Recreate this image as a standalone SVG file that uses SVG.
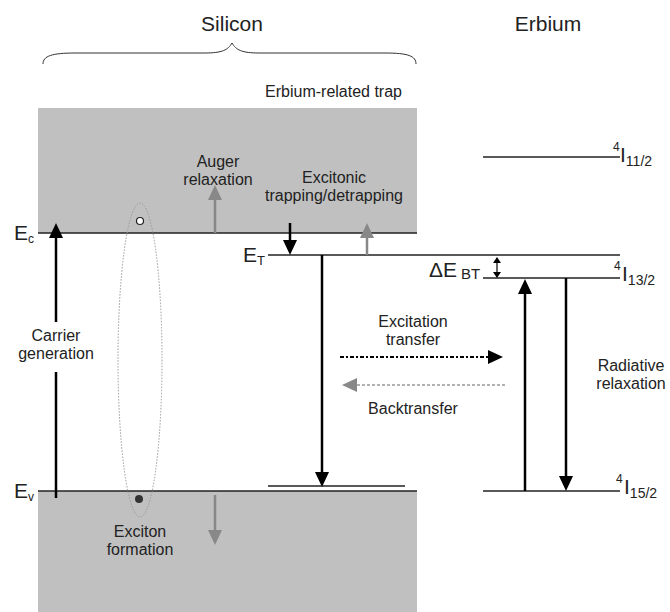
<svg xmlns="http://www.w3.org/2000/svg" width="670" height="612" viewBox="0 0 670 612">
<style>
text{font-family:"Liberation Sans",Arial,sans-serif;fill:#222}
.lbl{font-size:16px}
.big{font-size:21px}
.lvl{stroke:#222;stroke-width:1.5;fill:none}
.blk{stroke:#000;stroke-width:2.5;fill:none}
.gry{stroke:#888;stroke-width:2.5;fill:none}
.band{fill:#c0c0c0}
</style>
<defs>
<marker id="hb" markerUnits="userSpaceOnUse" markerWidth="16" markerHeight="14" refX="0" refY="7" orient="auto" overflow="visible"><path d="M0,0 L15,7 L0,14 z" fill="#000"/></marker>
<marker id="hg" markerUnits="userSpaceOnUse" markerWidth="16" markerHeight="14" refX="0" refY="7" orient="auto" overflow="visible"><path d="M0,0 L15,7 L0,14 z" fill="#888"/></marker>
<marker id="hs" markerUnits="userSpaceOnUse" markerWidth="7" markerHeight="8" refX="0" refY="4" orient="auto" overflow="visible"><path d="M0,0 L6,4 L0,8 z" fill="#000"/></marker>
<marker id="hss" markerUnits="userSpaceOnUse" markerWidth="7" markerHeight="8" refX="0" refY="4" orient="auto-start-reverse" overflow="visible"><path d="M0,0 L6,4 L0,8 z" fill="#000"/></marker>
</defs>
<g id="silicon-band">
<rect class="band" x="38" y="108" width="379" height="125"/>
<rect class="band" x="38" y="491" width="379" height="121"/>
<path d="M43,64 C43,56 52,53 75,53 L205,53 C222,53 228,50 232,43 C236,50 242,53 259,53 L385,53 C408,53 416,56 416,64" fill="none" stroke="#333" stroke-width="1"/>
<text class="big" x="232" y="31" text-anchor="middle">Silicon</text>
<text class="lbl" x="402" y="97" text-anchor="end">Erbium-related trap</text>
</g>
<g id="erbium-title"><text class="big" x="548" y="31" text-anchor="middle">Erbium</text></g>
<g id="Ec"><line class="lvl" x1="38" y1="233" x2="417" y2="233"/><text class="big" x="14" y="240">E<tspan font-size="12" dy="3">c</tspan></text></g>
<g id="Ev"><line class="lvl" x1="38" y1="491" x2="417" y2="491"/><text class="big" x="14" y="498">E<tspan font-size="12" dy="3">v</tspan></text></g>
<g id="ET"><line class="lvl" x1="268" y1="255" x2="620" y2="255"/><text class="big" x="243" y="262">E<tspan font-size="13" dy="3">T</tspan></text></g>
<g id="trap-low"><line class="lvl" x1="268" y1="486" x2="405" y2="486"/></g>
<g id="I11"><line class="lvl" x1="483" y1="157" x2="620" y2="157"/><text x="613" y="151" font-size="12">4</text><text class="big" x="620" y="162">I<tspan font-size="14" dy="4">11/2</tspan></text></g>
<g id="I13"><line class="lvl" x1="483" y1="278" x2="620" y2="278"/><text x="614" y="270" font-size="12">4</text><text class="big" x="622" y="281">I<tspan font-size="14" dy="4">13/2</tspan></text><text class="big" x="429" y="277">ΔE<tspan font-size="15" dx="4" dy="2">BT</tspan></text></g>
<g id="I15"><line class="lvl" x1="483" y1="491" x2="620" y2="491"/><text x="616" y="483" font-size="12">4</text><text class="big" x="624" y="494">I<tspan font-size="14" dy="4">15/2</tspan></text></g>
<g id="exciton">
<ellipse cx="140" cy="360" rx="22" ry="157" fill="none" stroke="#999" stroke-width="1" stroke-dasharray="1.5 1.5"/>
<circle cx="140" cy="221" r="3.5" fill="#fff" stroke="#222" stroke-width="1.2"/>
<circle cx="139" cy="499" r="4" fill="#333"/>
<text class="lbl" text-anchor="middle" x="140" y="537">Exciton</text>
<text class="lbl" text-anchor="middle" x="140" y="555">formation</text>
</g>
<g id="labels">
<text class="lbl" text-anchor="middle" x="218" y="167">Auger</text>
<text class="lbl" text-anchor="middle" x="218" y="185">relaxation</text>
<text class="lbl" text-anchor="middle" x="334" y="183">Excitonic</text>
<text class="lbl" text-anchor="middle" x="334" y="201">trapping/detrapping</text>
<text class="lbl" text-anchor="middle" x="56" y="341">Carrier</text>
<text class="lbl" text-anchor="middle" x="56" y="359">generation</text>
<text class="lbl" text-anchor="middle" x="413" y="327">Excitation</text>
<text class="lbl" text-anchor="middle" x="413" y="345">transfer</text>
<text class="lbl" text-anchor="middle" x="413" y="414">Backtransfer</text>
<text class="lbl" text-anchor="middle" x="631" y="371">Radiative</text>
<text class="lbl" text-anchor="middle" x="631" y="389">relaxation</text>
</g>
<g id="connectors">
<line class="blk" x1="56" y1="498" x2="56" y2="372"/>
<line class="blk" x1="56" y1="322" x2="56" y2="238" marker-end="url(#hb)"/>
<line class="gry" x1="215" y1="233" x2="215" y2="200" marker-end="url(#hg)"/>
<line class="blk" x1="290" y1="223" x2="290" y2="240" marker-end="url(#hb)"/>
<line class="gry" x1="367" y1="255" x2="367" y2="238" marker-end="url(#hg)"/>
<line class="blk" x1="322" y1="255" x2="322" y2="472" marker-end="url(#hb)"/>
<line x1="497" y1="263" x2="497" y2="272" stroke="#000" stroke-width="1.2" marker-start="url(#hss)" marker-end="url(#hs)"/>
<line class="blk" x1="525" y1="491" x2="525" y2="294" marker-end="url(#hb)"/>
<line class="blk" x1="566" y1="278" x2="566" y2="476" marker-end="url(#hb)"/>
<line class="gry" x1="215" y1="495" x2="215" y2="530" marker-end="url(#hg)"/>
<line x1="340" y1="357" x2="488" y2="357" stroke="#000" stroke-width="2" stroke-dasharray="4 2 2 2" marker-end="url(#hb)"/>
<line x1="505" y1="385" x2="357" y2="385" stroke="#999" stroke-width="1.5" stroke-dasharray="3 2" marker-end="url(#hg)"/>
</g>
</svg>
